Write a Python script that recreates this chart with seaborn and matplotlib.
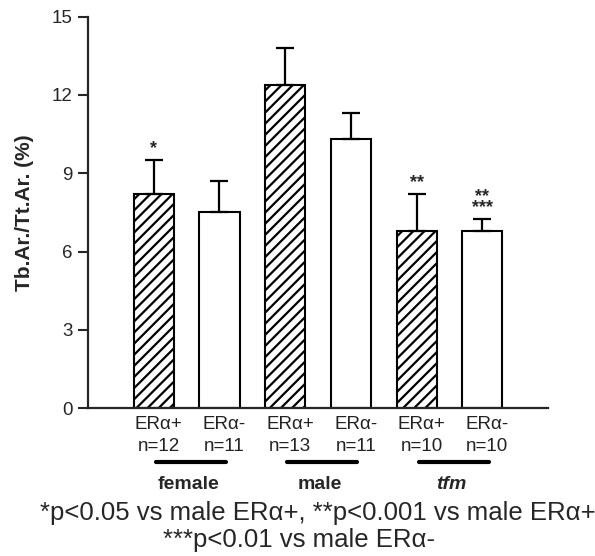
import matplotlib
matplotlib.use('Agg')
import matplotlib.pyplot as plt
import matplotlib.transforms as mtransforms
import seaborn as sns
import numpy as np

# values
receptor = ['ERα+', 'ERα-', 'ERα+', 'ERα-', 'ERα+', 'ERα-']
n_counts = [12, 11, 13, 11, 10, 10]
means = [8.2, 7.5, 12.4, 10.3, 6.8, 6.8]
errs = [1.3, 1.2, 1.4, 1.0, 1.4, 0.45]
stars = ['*', '', '', '', '**', '**\n***']
groups = ['female', 'male', 'tfm']
footnote1 = '*p<0.05 vs male ERα+, **p<0.001 vs male ERα+'
footnote2 = '***p<0.01 vs male ERα-'

sns.set_style('ticks')
plt.rcParams['font.family'] = ['Liberation Sans', 'DejaVu Sans']
plt.rcParams['hatch.linewidth'] = 1.6
plt.rcParams['hatch.color'] = 'black'

labels = [f'{r}\nn={n}' for r, n in zip(receptor, n_counts)]
pos = list(range(len(means)))

fig = plt.figure(figsize=(5.95, 5.56), dpi=100)
ax = fig.add_axes([0.148, 0.266, 0.773, 0.704])

sns.barplot(x=pos, y=means, color='white', saturation=1, edgecolor='black',
            linewidth=1.5, width=0.61, errorbar=None, ax=ax)
for i, p in enumerate(ax.patches):
    if receptor[i].endswith('+'):
        p.set_hatch('///')

ax.errorbar(pos, means, yerr=[np.zeros(len(errs)), errs], fmt='none', ecolor='black',
            elinewidth=1.6, capsize=6.5, capthick=1.6)

for i, s in enumerate(stars):
    if s:
        ax.text(i, means[i] + errs[i] + 0.1, s, ha='center', va='bottom',
                fontsize=13, fontweight='bold', linespacing=0.55)

ax.set_xlim(-1, 6)
ax.set_ylim(0, 15)
ax.set_yticks([0, 3, 6, 9, 12, 15])
ax.set_xticks(pos)
ax.set_xticklabels(labels)
ax.tick_params(axis='y', length=7, width=1.5, labelsize=13.5, pad=4)
ax.tick_params(axis='x', length=0, labelsize=13.5, pad=6)
shift = mtransforms.ScaledTranslation(5 / 100, 0, fig.dpi_scale_trans)
for t in ax.get_xticklabels():
    t.set_linespacing(1.32)
    t.set_color('#222222')
    t.set_transform(t.get_transform() + shift)
sns.despine(ax=ax)
ax.spines['left'].set_linewidth(1.6)
ax.spines['bottom'].set_linewidth(1.6)
ax.set_ylabel('Tb.Ar./Tt.Ar. (%)', fontsize=15, fontweight='bold', labelpad=13)

trans = mtransforms.blended_transform_factory(ax.transData, ax.transAxes)
for g, name in enumerate(groups):
    ax.plot([2 * g + 0.03, 2 * g + 1.1], [-0.137, -0.137], color='black', lw=3,
            solid_capstyle='round', transform=trans, clip_on=False)
    ax.text(2 * g + 0.53, -0.194, name, transform=trans, ha='center', va='center',
            fontsize=14, fontweight='bold', style='italic' if name == 'tfm' else 'normal')

fig.text(0.534, 0.077, footnote1, ha='center', va='center', fontsize=18.5)
fig.text(0.503, 0.029, footnote2, ha='center', va='center', fontsize=18.5)

fig.savefig('out.png', dpi=100)
